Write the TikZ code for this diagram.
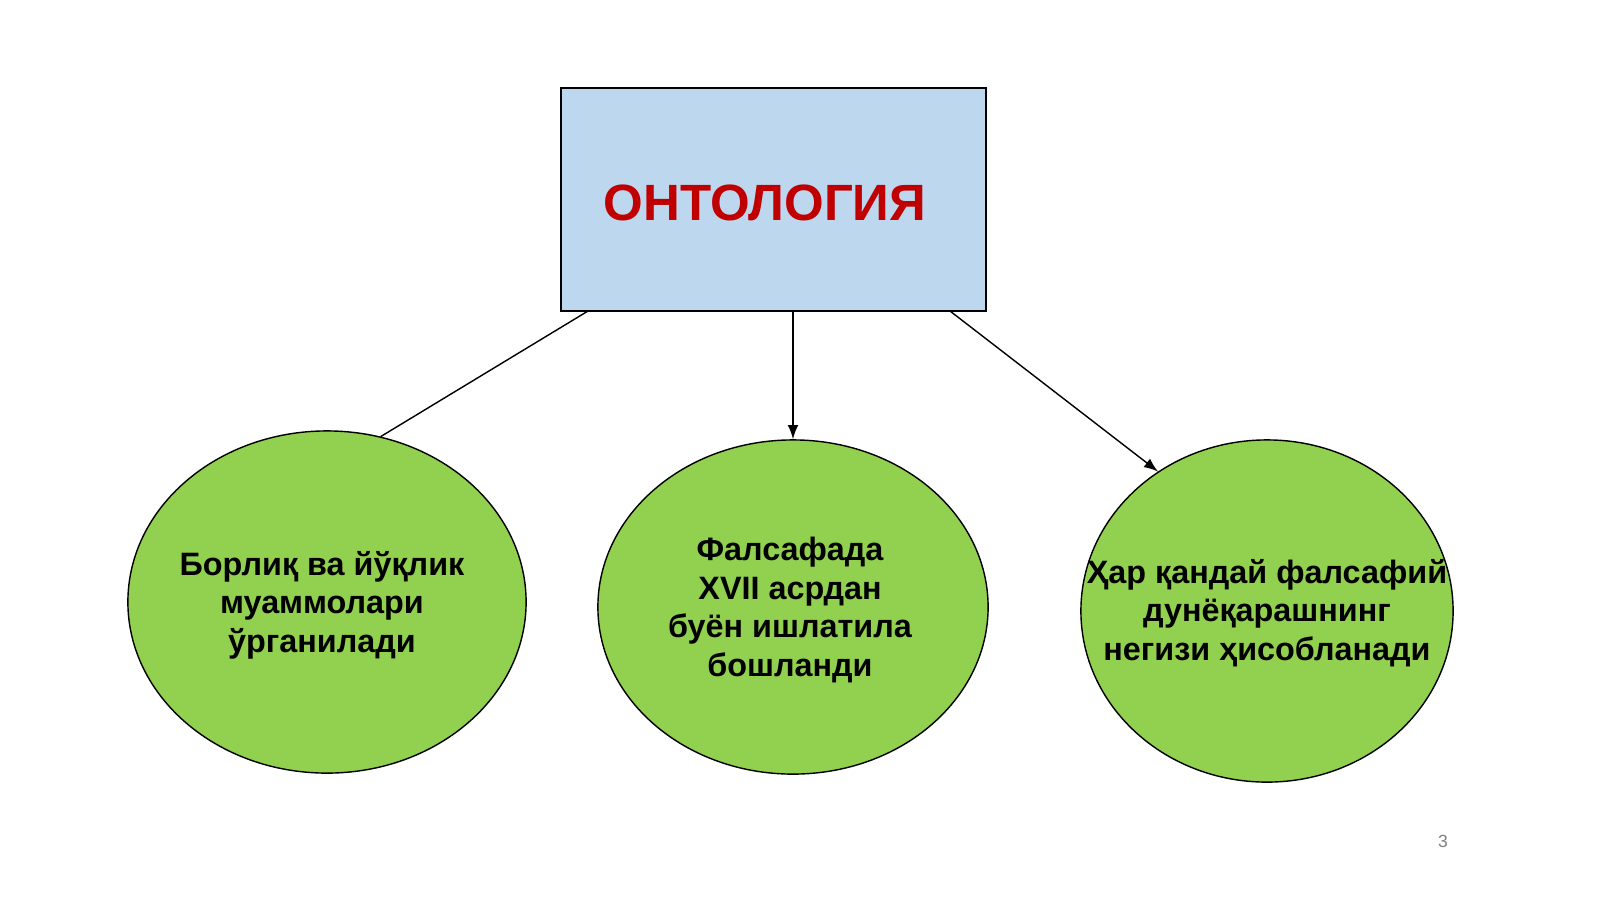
\documentclass[tikz,border=0pt]{standalone}
\usepackage{fontspec}
\setmainfont{Liberation Sans}
\usetikzlibrary{positioning,shapes.geometric}
\definecolor{boxblue}{HTML}{BDD7EE}
\definecolor{leafgreen}{HTML}{92D050}
\definecolor{titlered}{HTML}{C00000}

\begin{document}
\begin{tikzpicture}[x=0.01cm, y=-0.01cm,
	topic/.style={draw=black, fill=boxblue, minimum width=4.25cm, minimum height=2.23cm},
	leaf/.style={ellipse, draw=black, fill=leafgreen, inner sep=0pt},
	leaftext/.style={align=center, font=\fontsize{9.2}{11}\selectfont\bfseries},
	link/.style={-latex, thin}]
		\useasboundingbox (0,0) rectangle (1600,899);

		% Top box
		\node[topic] (onto) at (773.5,199.5) {};
		\node[text=titlered, font=\fontsize{14.5}{16}\selectfont\bfseries] (title) at (765,203) {ОНТОЛОГИЯ};

		% Ellipses
		\node[leaf, minimum width=3.98cm, minimum height=3.42cm] (borliq) at (327,602) {};
		\node[leaf, minimum width=3.90cm, minimum height=3.34cm] (falsafa) at (793,607) {};
		\node[leaf, minimum width=3.72cm, minimum height=3.42cm] (negiz) at (1267,611) {};
		\node[leaftext] (t1) at (322,605) {Борлиқ ва йўқлик\\муаммолари\\ўрганилади};
		\node[leaftext] (t2) at (790,610) {Фалсафада\\XVII асрдан\\буён ишлатила\\бошланди};
		\node[leaftext] (t3) at (1267,613) {Ҳар қандай фалсафий\\дунёқарашнинг\\негизи ҳисобланади};

		% Connectors
		\coordinate (a1) at (588,311);
		\coordinate (a2) at (950,311);
		\draw[thin] (a1) -- (borliq.72);
		\draw[link] (onto.south -| falsafa.north) -- (falsafa.north);
		\draw[link] (a2) -- (negiz.128);

		\node[text=gray, font=\fontsize{5}{6}\selectfont] (page) at (1443,841) {3};
	\end{tikzpicture}
\end{document}
